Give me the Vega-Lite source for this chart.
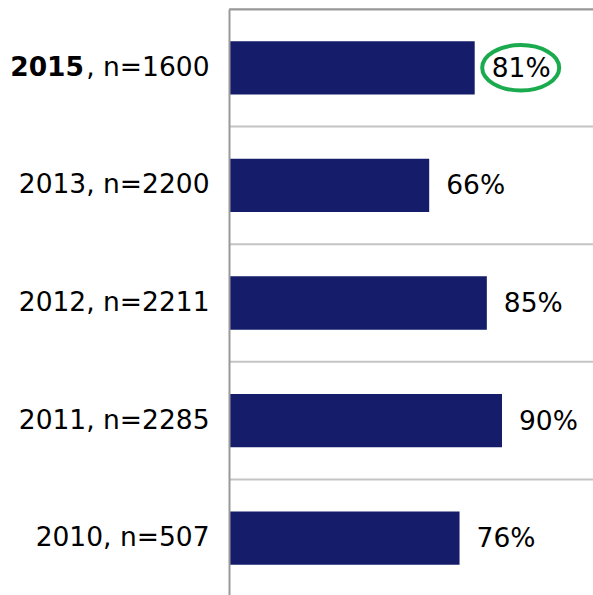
{
  "$schema": "https://vega.github.io/schema/vega-lite/v6.json",
  "width": 364,
  "height": 588,
  "autosize": {"type": "none"},
  "padding": {"left": 229, "top": 9, "right": 0, "bottom": 0},
  "background": "white",
  "config": {"view": {"stroke": null}},
  "data": {"values": [
    {"label": "2015, n=1600", "bold": "2015", "pct": 81, "text": "81%", "hl": true},
    {"label": "2013, n=2200", "bold": "", "pct": 66, "text": "66%", "hl": false},
    {"label": "2012, n=2211", "bold": "", "pct": 85, "text": "85%", "hl": false},
    {"label": "2011, n=2285", "bold": "", "pct": 90, "text": "90%", "hl": false},
    {"label": "2010, n=507", "bold": "", "pct": 76, "text": "76%", "hl": false}
  ]},
  "encoding": {
    "y": {
      "field": "label", "type": "nominal", "sort": null,
      "scale": {"paddingInner": 0, "paddingOuter": 0},
      "axis": {
        "title": null,
        "grid": false,
        "zindex": 1,
        "domain": true, "domainColor": "#999999", "domainWidth": 2,
        "ticks": false,
        "labelPadding": 20,
        "labelLimit": 400,
        "labelFont": "DejaVu Sans", "labelFontSize": 26.5, "labelColor": "#000000",
        "labelExpr": "datum.value == '2015, n=1600' ? ', n=1600' : datum.value"
      }
    },
    "x": {
      "field": "pct", "type": "quantitative",
      "scale": {"domain": [0, 120], "nice": false, "zero": true},
      "axis": {"orient": "top", "zindex": 1, "title": null, "labels": false, "ticks": false, "grid": false, "domainColor": "#999999", "domainWidth": 2}
    }
  },
  "layer": [
    {"mark": {"type": "rule", "color": "#c4c4c4", "strokeWidth": 2},
     "encoding": {"y": {"field": "label", "type": "nominal", "sort": null, "bandPosition": 0}, "x": {"datum": 0}, "x2": {"datum": 120}}},
    {"mark": {"type": "bar", "color": "#151c69", "height": {"band": 0.453}}},
    {"mark": {"type": "text", "align": "left", "baseline": "middle", "dx": 17, "dy": 1, "font": "DejaVu Sans", "fontSize": 26.5, "color": "#000000"},
     "encoding": {"text": {"field": "text"}}},
    {"transform": [{"filter": "datum.hl"}],
     "mark": {"type": "text", "align": "right", "baseline": "middle", "fontWeight": "bold", "font": "DejaVu Sans", "fontSize": 26.5, "color": "#000000"},
     "encoding": {"x": {"datum": 0}, "text": {"field": "bold"}, "xOffset": {"value": -145}}},
    {"transform": [{"filter": "datum.hl"}],
     "mark": {"type": "point", "shape": "M -1 0 A 1 0.59 0 1 0 1 0 A 1 0.59 0 1 0 -1 0 Z", "size": 5929, "filled": false, "stroke": "#1aab4e", "strokeWidth": 4, "opacity": 1, "xOffset": 46},
     "encoding": {}}
  ]
}
